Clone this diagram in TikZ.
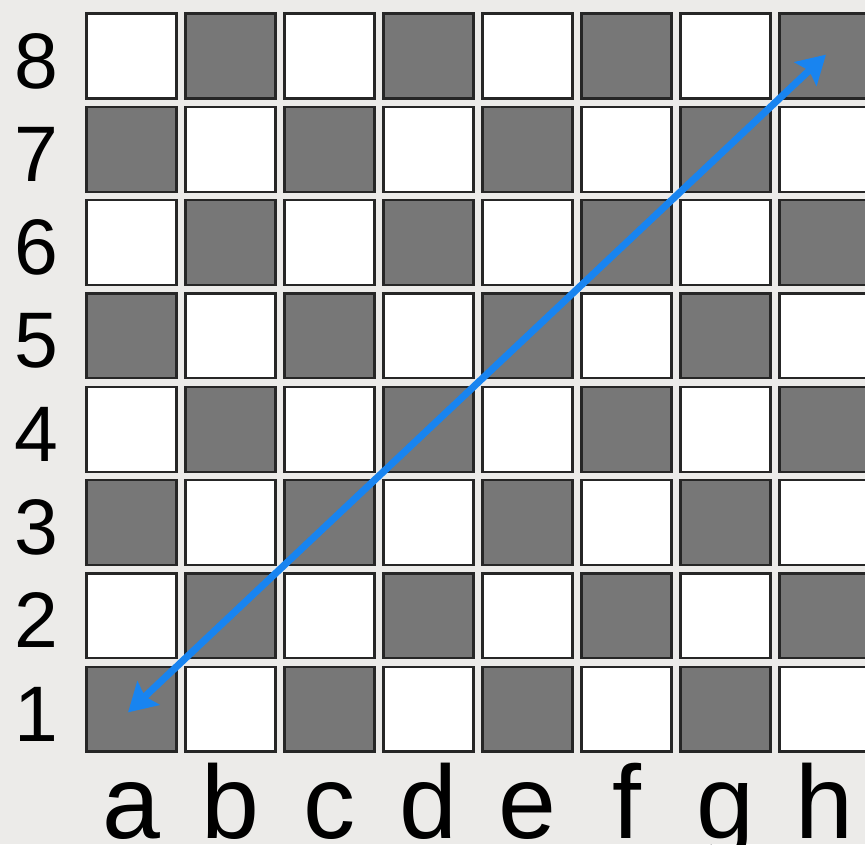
\documentclass[tikz,border=0pt]{standalone}
\usepackage{fontspec}
\setmainfont{Liberation Sans}
\usetikzlibrary{arrows.meta}
\definecolor{diagblue}{RGB}{24,132,240}
\definecolor{darksq}{RGB}{119,119,119}
\definecolor{bgpaper}{RGB}{236,235,233}

\begin{document}
\begin{tikzpicture}[x=0.025cm,y=-0.025cm,>={Stealth[length=0.7cm,width=0.8cm,inset=0.12cm]},
  sq/.style={draw=black!85,line width=1.6pt,minimum width=2.25cm,minimum height=2.12cm,inner sep=0pt,outer sep=0pt},
  ranklab/.style={font=\fontsize{56}{56}\selectfont,anchor=base,inner sep=0pt},
  filelab/.style={font=\fontsize{74}{74}\selectfont,anchor=base,inner sep=0pt}]
  \useasboundingbox (0,0) rectangle (865,844);
  \clip (0,0) rectangle (865,844);
  \fill[bgpaper] (0,0) rectangle (865,844);
  % squares
  \foreach \f [count=\i from 0] in {a,b,c,d,e,f,g,h} {
    \foreach \r in {1,...,8} {
      \pgfmathtruncatemacro\dk{mod(\i+\r,2)}
      \ifnum\dk=1
        \node[sq,fill=darksq] (\f\r) at ({131.5+99*\i},{56+93.3*(8-\r)}) {};
      \else
        \node[sq,fill=white] (\f\r) at ({131.5+99*\i},{56+93.3*(8-\r)}) {};
      \fi
    }
    \node[filelab] (file\f) at ({131.5+99*\i},838) {\f};
  }
  \foreach \r in {1,...,8}
    \node[ranklab] (rank\r) at (36,{88+93.3*(8-\r)}) {\r};
  % diagonal
  \draw[<->,diagblue,line width=5pt,shorten <=-0.12cm,shorten >=-0.05cm] (a1.center) -- (h8.center);
\end{tikzpicture}
\end{document}
